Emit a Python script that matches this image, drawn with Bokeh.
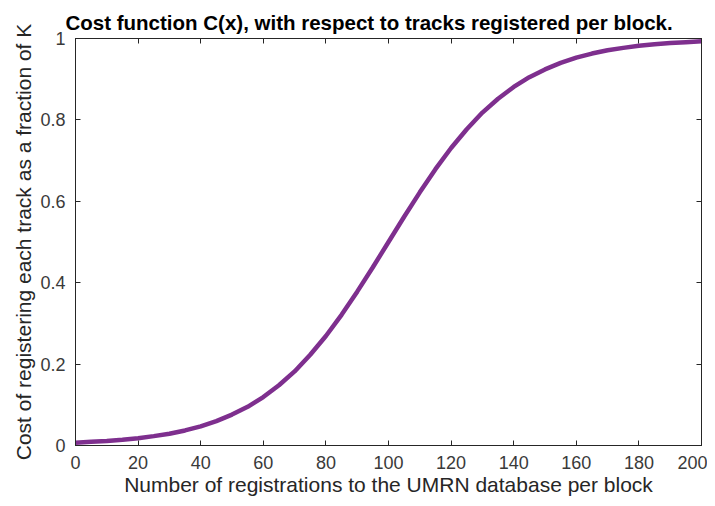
from bokeh.plotting import figure
from bokeh.models import LinearAxis, Range1d, FixedTicker, Title
from bokeh.embed import file_html
from bokeh.resources import INLINE

# Data
x_vals = [0, 5, 10, 15, 20, 25, 30, 35, 40, 45, 50, 55, 60, 65, 70, 75, 80, 85, 90, 95,
          100, 105, 110, 115, 120, 125, 130, 135, 140, 145, 150, 155, 160, 165, 170, 175,
          180, 185, 190, 195, 200]
cost_vals = [0.007, 0.009, 0.011, 0.014, 0.018, 0.023, 0.029, 0.037, 0.047, 0.060,
             0.076, 0.095, 0.119, 0.148, 0.182, 0.223, 0.269, 0.321, 0.378, 0.438,
             0.500, 0.562, 0.622, 0.679, 0.731, 0.777, 0.818, 0.852, 0.881, 0.905,
             0.924, 0.940, 0.953, 0.963, 0.971, 0.977, 0.982, 0.986, 0.989, 0.991, 0.993]
x_ticks = [0, 20, 40, 60, 80, 100, 120, 140, 160, 180, 200]
y_ticks = [0, 0.2, 0.4, 0.6, 0.8, 1]
y_tick_labels = {0: "0", 0.2: "0.2", 0.4: "0.4", 0.6: "0.6", 0.8: "0.8", 1: "1"}

title_text = "Cost function C(x), with respect to tracks registered per block."
x_label = "Number of registrations to the UMRN database per block"
y_label = "Cost of registering each track as a fraction of K"

FONT = "Liberation Sans"
AX = "#262626"

p = figure(width=707, height=498, output_backend="svg", toolbar_location=None,
           x_range=Range1d(0, 200), y_range=Range1d(0, 1),
           min_border_left=75, min_border_right=6, min_border_top=38, min_border_bottom=52,
           x_axis_label=x_label, y_axis_label=y_label)

p.title = Title(text=title_text, align="left", offset=-10,
                text_font=FONT, text_font_size="20.5px", text_font_style="bold",
                text_color="#000000", standoff=9)

p.line(x_vals, cost_vals, line_color="#7E2F8E", line_width=4.5)

p.grid.visible = False
p.outline_line_color = AX
p.outline_line_width = 1
p.background_fill_color = "white"
p.border_fill_color = "white"

for ax, ticks in ((p.xaxis[0], x_ticks), (p.yaxis[0], y_ticks)):
    ax.ticker = FixedTicker(ticks=ticks)
    ax.major_tick_in = 5
    ax.major_tick_out = 0
    ax.minor_tick_line_color = None
    ax.axis_line_color = AX
    ax.major_tick_line_color = AX
    ax.major_label_text_font = FONT
    ax.major_label_text_font_size = "18px"
    ax.major_label_text_color = "#3a3a3a"
    ax.axis_label_text_font = FONT
    ax.axis_label_text_font_style = "normal"
    ax.axis_label_text_color = "#262626"

p.xaxis[0].axis_label_text_font_size = "21px"
p.yaxis[0].axis_label_text_font_size = "21px"
p.yaxis[0].major_label_overrides = y_tick_labels
p.xaxis[0].major_label_standoff = 10
p.yaxis[0].major_label_standoff = 10
p.xaxis[0].axis_label_standoff = 1
p.yaxis[0].axis_label_standoff = 2

for loc, ticks in (("right", y_ticks), ("above", x_ticks)):
    a = LinearAxis(ticker=FixedTicker(ticks=ticks))
    a.major_tick_in = 5
    a.major_tick_out = 0
    a.minor_tick_line_color = None
    a.axis_line_color = AX
    a.major_tick_line_color = AX
    a.major_label_text_font_size = "0px"
    a.major_label_text_alpha = 0
    a.major_label_standoff = 0
    p.add_layout(a, loc)

open("out.html", "w").write(file_html(p, INLINE))
